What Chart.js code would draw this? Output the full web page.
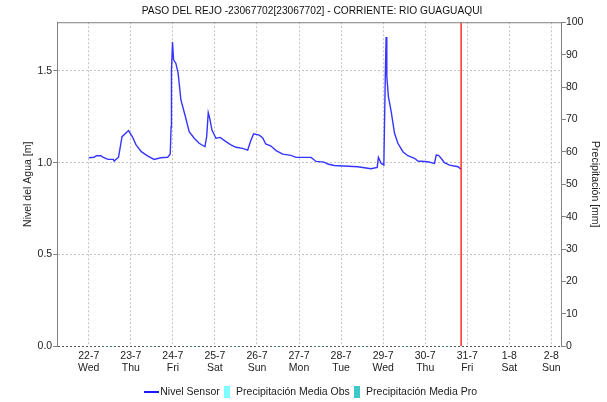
<!DOCTYPE html>
<html>
<head>
<meta charset="utf-8">
<script src="https://cdn.jsdelivr.net/npm/chart.js@4.4.1/dist/chart.umd.min.js"></script>
<style>
  html, body { margin: 0; padding: 0; background: #fff; }
  #wrap { width: 607px; height: 402px; position: relative; }
</style>
</head>
<body>
<div id="wrap"><canvas id="c" width="607" height="402"></canvas></div>
<script>
// ---- Data (hours counted from 22-7 00:00) ----
const chartTitle = 'PASO DEL REJO -23067702[23067702] - CORRIENTE: RIO GUAGUAQUI';
const tickHours = [0, 24, 48, 72, 96, 120, 144, 168, 192, 216, 240, 264];
const dayLabels = ['22-7', '23-7', '24-7', '25-7', '26-7', '27-7', '28-7', '29-7', '30-7', '31-7', '1-8', '2-8'];
const weekdayLabels = ['Wed', 'Thu', 'Fri', 'Sat', 'Sun', 'Mon', 'Tue', 'Wed', 'Thu', 'Fri', 'Sat', 'Sun'];

const levelHours = [0, 3, 4.5, 7, 8, 11, 14, 14.5, 17, 19, 22.7, 25, 27, 30, 33.5, 37.3, 41, 45, 46.5, 47, 47.2, 47.8, 48.4, 49.7, 51, 52.6, 55.4, 57.3, 60.2, 63, 66.3, 67.3, 68.2, 69.1, 70.3, 72.6, 75, 78.3, 81.1, 84, 87.8, 90.7, 92.6, 94.1, 97.3, 99.3, 101, 104, 106.9, 110.7, 115.4, 118.3, 126.9, 129.7, 134.3, 136.4, 140, 153.5, 161.1, 164.6, 165.3, 166.9, 168.4, 168.7, 169.3, 169.7, 170.1, 171, 172.6, 174.5, 176.4, 179.3, 182.1, 185.9, 187.8, 193.5, 197.3, 198.3, 199.6, 201.1, 203, 205.9, 210.7, 212.6];
const levelValues = [1.027, 1.03, 1.038, 1.038, 1.03, 1.018, 1.018, 1.009, 1.03, 1.142, 1.175, 1.14, 1.097, 1.06, 1.037, 1.018, 1.027, 1.03, 1.046, 1.196, 1.497, 1.657, 1.56, 1.542, 1.488, 1.342, 1.242, 1.169, 1.133, 1.106, 1.087, 1.142, 1.273, 1.24, 1.178, 1.133, 1.138, 1.115, 1.097, 1.084, 1.078, 1.069, 1.124, 1.157, 1.15, 1.135, 1.102, 1.091, 1.066, 1.047, 1.04, 1.029, 1.029, 1.007, 1.003, 0.993, 0.985, 0.978, 0.967, 0.975, 1.029, 0.996, 0.987, 1.16, 1.506, 1.684, 1.469, 1.36, 1.278, 1.16, 1.106, 1.06, 1.038, 1.024, 1.009, 1.005, 0.996, 1.042, 1.04, 1.024, 1.0, 0.987, 0.978, 0.964];

const precipHours = [12, 36, 60, 84, 108, 132, 156, 180, 204];
const precipObs = [0, 0, 0, 0, 0, 0, 0, 0, 0];
const precipPro = [0, 0, 0, 0, 0, 0, 0, 0, 0];

const nowHour = 212.5;
const xMin = -18, xMax = 270;
const levelMax = 1.765;
const precipMax = 100;

// ---- legend markers ----
function marker(w, h, color) {
  const c = document.createElement('canvas');
  c.width = w; c.height = h;
  const g = c.getContext('2d');
  g.fillStyle = color; g.fillRect(0, 0, w, h);
  return c;
}
const markers = [marker(15, 2, '#1a1aff'), marker(6, 12, '#80ffff'), marker(6, 12, '#40c8c8')];

const FONT = "'Liberation Sans', Arial, sans-serif";
const topBorder = {
  id: 'topBorder',
  afterDatasetsDraw(chart) {
    const {ctx, chartArea: a} = chart;
    ctx.save();
    ctx.strokeStyle = '#808080'; ctx.lineWidth = 1;
    ctx.beginPath(); ctx.moveTo(a.left, a.top + 0.5); ctx.lineTo(a.right, a.top + 0.5); ctx.stroke();
    ctx.restore();
  }
};

new Chart(document.getElementById('c'), {
  data: {
    datasets: [
      { type: 'line', label: 'Nivel Sensor', yAxisID: 'y',
        data: levelHours.map((h, i) => ({x: h, y: levelValues[i]})),
        borderColor: '#3535ff', borderWidth: 1.4, pointRadius: 0, tension: 0, order: 1 },
      { type: 'bar', label: 'Precipitación Media Obs', yAxisID: 'y2',
        data: precipHours.map((h, i) => ({x: h, y: precipObs[i]})),
        backgroundColor: '#80ffff', borderWidth: 0, barThickness: 6, order: 3 },
      { type: 'bar', label: 'Precipitación Media Pro', yAxisID: 'y2',
        data: precipHours.map((h, i) => ({x: h, y: precipPro[i]})),
        backgroundColor: '#40c8c8', borderWidth: 0, barThickness: 6, order: 3 },
      { type: 'line', label: 'now', yAxisID: 'y2',
        data: [{x: nowHour, y: 0}, {x: nowHour, y: precipMax}],
        borderColor: '#ff3030', borderWidth: 1.5, pointRadius: 0, order: 0 }
    ]
  },
  options: {
    responsive: false, animation: false,
    layout: { padding: { left: 20, right: 3, top: 0, bottom: -5 } },
    font: { family: FONT, size: 10.5 },
    plugins: {
      title: { display: true, text: chartTitle, color: '#111', font: { family: FONT, size: 10.2, weight: 'normal' }, padding: { top: 5, bottom: 5 } },
      tooltip: { enabled: false },
      legend: {
        position: 'bottom',
        labels: {
          usePointStyle: true, pointStyleWidth: 8, boxHeight: 11, padding: 3,
          color: '#222', font: { family: FONT, size: 10.5 },
          generateLabels(chart) {
            const items = Chart.defaults.plugins.legend.labels.generateLabels(chart);
            items.forEach(it => { it.pointStyle = markers[it.datasetIndex]; });
            return items.filter(it => it.datasetIndex < 3);
          }
        }
      }
    },
    scales: {
      x: {
        type: 'linear', min: xMin, max: xMax, offset: false,
        afterBuildTicks: axis => { axis.ticks = tickHours.map(v => ({value: v})); },
        afterFit: axis => { axis.height += 5; },
        ticks: {
          autoSkip: false, maxRotation: 0, padding: 4, color: '#222',
          font: { family: FONT, size: 10.5, lineHeight: 1.15 },
          callback: (v) => { const i = tickHours.indexOf(v); return i >= 0 ? [dayLabels[i], weekdayLabels[i]] : ''; }
        },
        grid: { color: '#c4c4c4', drawTicks: false, lineWidth: 1, offset: false },
        border: { display: false, dash: [2, 2] }
      },
      y: {
        position: 'left', min: 0, max: levelMax,
        ticks: { stepSize: 0.5, includeBounds: false, padding: 1, color: '#222', font: { family: FONT, size: 10.5 },
          callback: v => Number(v).toFixed(1) },
        grid: { color: ctx => (ctx.tick && ctx.tick.value === 0 ? '#555' : '#c4c4c4'), tickLength: 4, tickColor: '#808080', tickBorderDash: [], lineWidth: 1 },
        border: { display: true, color: '#808080', dash: [2, 2] },
        title: { display: true, text: 'Nivel del Agua [m]', color: '#222', font: { family: FONT, size: 10.5 }, padding: { top: 2, bottom: 2 } }
      },
      y2: {
        position: 'right', min: 0, max: precipMax,
        ticks: { stepSize: 10, padding: 0, color: '#222', font: { family: FONT, size: 10.5 } },
        grid: { drawOnChartArea: false, tickLength: 4, tickColor: '#808080' },
        border: { display: true, color: '#808080' },
        title: { display: true, text: 'Precipitación [mm]', color: '#222', font: { family: FONT, size: 10.5 }, padding: { top: 3, bottom: 5 } }
      }
    }
  },
  plugins: [topBorder]
});
</script>
</body>
</html>
